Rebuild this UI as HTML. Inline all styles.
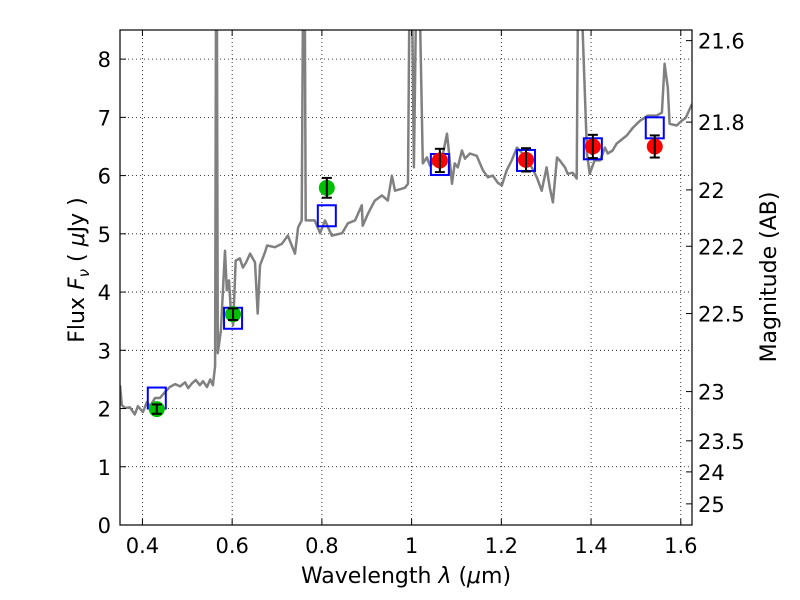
<!DOCTYPE html>
<html><head><meta charset="utf-8"><style>
body{margin:0;background:#fff}
svg{display:block;font-family:"DejaVu Sans","Liberation Sans",sans-serif}
</style></head><body>
<svg id="chart" width="800" height="600" viewBox="0 0 800 600"></svg>
<script>
const specLam=[0.350,0.354,0.361,0.372,0.383,0.390,0.401,0.410,0.417,0.428,0.439,0.450,0.461,0.473,0.484,0.495,0.502,0.510,0.519,0.528,0.535,0.544,0.551,0.557,0.562,0.564,0.566,0.568,0.575,0.584,0.588,0.593,0.597,0.602,0.608,0.617,0.624,0.631,0.640,0.651,0.657,0.662,0.673,0.678,0.695,0.711,0.724,0.740,0.747,0.755,0.758,0.762,0.764,0.784,0.796,0.807,0.822,0.845,0.858,0.874,0.889,0.891,0.903,0.918,0.934,0.947,0.956,0.963,0.985,0.992,0.995,1.001,1.005,1.010,1.018,1.025,1.034,1.041,1.056,1.070,1.079,1.083,1.090,1.096,1.103,1.112,1.119,1.130,1.145,1.159,1.170,1.181,1.192,1.201,1.212,1.223,1.235,1.246,1.257,1.268,1.279,1.290,1.301,1.308,1.315,1.324,1.330,1.342,1.348,1.359,1.368,1.371,1.379,1.391,1.397,1.408,1.420,1.431,1.437,1.448,1.457,1.480,1.493,1.509,1.526,1.546,1.558,1.564,1.571,1.575,1.591,1.602,1.611,1.625];
const specFlux=[2.40,2.06,2.01,2.02,1.90,2.04,1.94,2.11,2.04,2.18,2.18,2.28,2.37,2.42,2.38,2.45,2.35,2.43,2.49,2.40,2.47,2.37,2.50,2.40,2.73,9,9,2.95,3.34,4.71,4.03,4.20,3.69,3.43,4.54,4.58,4.42,4.51,4.66,4.51,3.63,4.46,4.68,4.80,4.77,4.83,4.97,4.66,5.11,5.23,9,9,5.23,5.23,5.01,5.23,4.97,5.01,5.18,5.23,5.49,5.14,5.35,5.57,5.66,5.57,6.00,5.74,5.79,5.86,9,9,6.14,9,9,6.21,6.31,6.17,6.26,6.38,6.72,6.43,5.86,6.21,6.14,6.43,6.29,6.38,6.34,6.09,5.97,6.00,5.88,5.83,6.09,6.26,6.48,6.39,6.26,6.14,5.97,5.74,6.14,5.79,5.54,6.31,6.26,6.14,6.03,6.05,5.95,9,9,6.38,6.03,6.26,6.26,6.48,6.38,6.43,6.55,6.69,6.82,6.94,7.03,7.03,7.08,7.92,7.51,6.89,6.86,6.94,6.99,7.23];
const greenLam=[0.432,0.602,0.811];
const greenFlux=[1.99,3.62,5.79];
const greenErr=[0.08,0.10,0.17];
const redLam=[1.063,1.255,1.404,1.542];
const redFlux=[6.26,6.27,6.50,6.50];
const redErr=[0.20,0.20,0.20,0.19];
const modelLam=[0.432,0.602,0.811,1.063,1.255,1.404,1.542];
const modelFlux=[2.18,3.55,5.31,6.19,6.26,6.46,6.82];
const xTicks=[0.4,0.6,0.8,1.0,1.2,1.4,1.6];
const xTickLabels=["0.4","0.6","0.8","1","1.2","1.4","1.6"];
const yTicks=[0,1,2,3,4,5,6,7,8];
const magTicks=[21.6,21.8,22,22.2,22.5,23,23.5,24,25];
const magLabels=["21.6","21.8","22","22.2","22.5","23","23.5","24","25"];

const L=120,R=692,T=30,B=525,xmin=0.35,xmax=1.625,ymin=0,ymax=8.5;
const X=v=>L+(v-xmin)/(xmax-xmin)*(R-L);
const Y=v=>B-(v-ymin)/(ymax-ymin)*(B-T);
const magToF=m=>Math.pow(10,(23.9-m)/2.5);
const svg=document.getElementById('chart');
const NS='http://www.w3.org/2000/svg';
function mk(tag,attrs,parent){const e=document.createElementNS(NS,tag);for(const k in attrs)e.setAttribute(k,attrs[k]);(parent||svg).appendChild(e);return e;}

const defs=mk('defs',{});
const cp=mk('clipPath',{id:'clip'},defs);mk('rect',{x:L,y:T,width:R-L,height:B-T},cp);

const grid=mk('g',{});


xTicks.forEach(t=>{mk('line',{x1:X(t),x2:X(t),y1:T,y2:B,stroke:'#000','stroke-width':0.8,'stroke-dasharray':'1,3'},grid);});
yTicks.forEach(t=>{mk('line',{x1:L,x2:R,y1:Y(t),y2:Y(t),stroke:'#000','stroke-width':0.8,'stroke-dasharray':'1,3'},grid);});

const pts=specLam.map((l,i)=>X(l).toFixed(1)+','+Y(specFlux[i]).toFixed(1)).join(' ');
const sp=mk('polyline',{points:pts,fill:'none',stroke:'#808080','stroke-width':2.5,'clip-path':'url(#clip)','stroke-linejoin':'round'});



modelLam.forEach((l,i)=>{
  const r=mk('rect',{x:X(l)-9,y:Y(modelFlux[i])-10.5,width:18,height:21,fill:'none',stroke:'#0000ff','stroke-width':2});
  
  
});
function pts2(lams,fl,er,color,name){
  lams.forEach((l,i)=>{
    const g=mk('g',{});
    
    
    mk('circle',{cx:X(l),cy:Y(fl[i]),r:8,fill:color},g);
    const y1=Y(fl[i]+er[i]),y2=Y(fl[i]-er[i]);
    mk('line',{x1:X(l),x2:X(l),y1:y1,y2:y2,stroke:'#000','stroke-width':2},g);
    mk('line',{x1:X(l)-5,x2:X(l)+5,y1:y1,y2:y1,stroke:'#000','stroke-width':2},g);
    mk('line',{x1:X(l)-5,x2:X(l)+5,y1:y2,y2:y2,stroke:'#000','stroke-width':2},g);
  });
}
pts2(greenLam,greenFlux,greenErr,'#00bf00','optical-photometry');
pts2(redLam,redFlux,redErr,'#ff0000','nir-photometry');

const fr=mk('rect',{x:L,y:T,width:R-L,height:B-T,fill:'none',stroke:'#000','stroke-width':1.2});



xTicks.forEach((t,i)=>{
  mk('line',{x1:X(t),x2:X(t),y1:B,y2:B-6,stroke:'#000'});
  mk('line',{x1:X(t),x2:X(t),y1:T,y2:T+6,stroke:'#000'});
  const tx=mk('text',{x:X(t),y:B+28,'font-size':21,'text-anchor':'middle'});
  tx.textContent=xTickLabels[i];
  
  
});
yTicks.forEach(t=>{
  mk('line',{x1:L,x2:L+6,y1:Y(t),y2:Y(t),stroke:'#000'});
  const tx=mk('text',{x:L-9,y:Y(t)+8,'font-size':21,'text-anchor':'end'});
  tx.textContent=String(t);
  
  
});
magTicks.forEach((m,i)=>{
  const y=Y(magToF(m));
  mk('line',{x1:R-6,x2:R,y1:y,y2:y,stroke:'#000'});
  const tx=mk('text',{x:R+6,y:y+8,'font-size':21});
  tx.textContent=magLabels[i];
  
  
});
</script>
<svg style="position:absolute;left:0;top:0" width="800" height="600">
<text x="406" y="583" font-size="22" text-anchor="middle" font-family="DejaVu Sans, Liberation Sans, sans-serif">Wavelength  <tspan font-style="italic">λ</tspan> (<tspan font-style="italic">μ</tspan>m)</text>
<text transform="translate(84,270) rotate(-90)" font-size="22" text-anchor="middle" font-family="DejaVu Sans, Liberation Sans, sans-serif">Flux  <tspan font-style="italic">F</tspan><tspan font-style="italic" font-size="15" dy="5">ν</tspan><tspan dy="-5">  ( </tspan><tspan font-style="italic">μ</tspan>Jy )</text>
<text transform="translate(776,277) rotate(-90)" font-size="22" text-anchor="middle" font-family="DejaVu Sans, Liberation Sans, sans-serif">Magnitude (AB)</text>
</svg>
</body></html>
